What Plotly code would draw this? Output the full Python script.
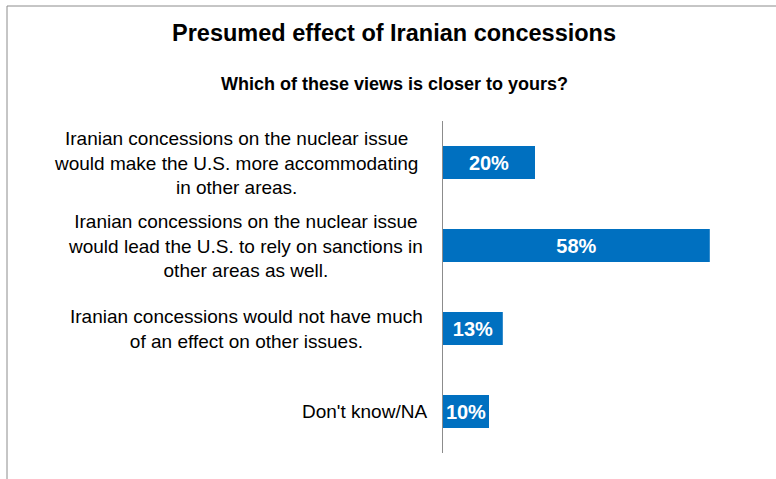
import plotly.graph_objects as go

categories = [
    "Iranian concessions on the nuclear issue<br>would make the U.S. more accommodating<br>in other areas.",
    "Iranian concessions on the nuclear issue<br>would lead the U.S. to rely on sanctions in<br>other areas as well.",
    "Iranian concessions would not have much<br>of an effect on other issues.",
    "Don't know/NA",
]
values = [20, 58, 13, 10]
value_labels = ["20%", "58%", "13%", "10%"]
title_text = "Presumed effect of Iranian concessions"
subtitle_text = "Which of these views is closer to yours?"

W, H = 776, 479
L, R, T, B = 443, 11, 121, 26
pw, ph = W - L - R, H - T - B

def px_x(p):
    return (p - L) / pw

def px_y(p):
    return 1 + (T - p) / ph

FONT = "Liberation Sans"
LABEL_SHIFTS = [-23, -18, -18, -14]

fig = go.Figure()
fig.add_trace(go.Bar(
    y=list(range(len(categories))),
    x=values,
    orientation="h",
    marker=dict(color="#0070C0", line=dict(width=0)),
    text=value_labels,
    textposition="inside",
    insidetextanchor="middle",
    constraintext="none",
    textfont=dict(family=FONT, size=20, color="white", weight="bold"),
    hoverinfo="skip",
))

annotations = [
    dict(text="<b>" + title_text + "</b>", x=px_x(394), y=px_y(33), xref="paper", yref="paper",
         xanchor="center", yanchor="middle", showarrow=False,
         font=dict(family=FONT, size=23.5, color="black")),
    dict(text="<b>" + subtitle_text + "</b>", x=px_x(394), y=px_y(84), xref="paper", yref="paper",
         xanchor="center", yanchor="middle", showarrow=False,
         font=dict(family=FONT, size=18, color="black")),
]
for i, c in enumerate(categories):
    annotations.append(dict(
        text=c, x=0, y=i, xref="paper", yref="y", xanchor="right", yanchor="middle",
        xshift=LABEL_SHIFTS[i], align="center", showarrow=False,
        font=dict(family=FONT, size=19, color="black"),
    ))

fig.update_layout(
    width=W, height=H,
    margin=dict(l=L, r=R, t=T, b=B, pad=0),
    paper_bgcolor="white", plot_bgcolor="white",
    bargap=0.6,
    showlegend=False,
    xaxis=dict(range=[0, pw / 4.6], visible=False, fixedrange=True),
    yaxis=dict(range=[3.5, -0.5], showticklabels=False, showgrid=False, zeroline=False,
               showline=True, linecolor="#8C8C8C", linewidth=1, ticks="", fixedrange=True),
    annotations=annotations,
    shapes=[dict(type="rect", xref="paper", yref="paper",
                 x0=px_x(7), x1=px_x(W + 20), y0=px_y(H + 20), y1=px_y(6),
                 line=dict(color="#8C8C8C", width=1), fillcolor="rgba(0,0,0,0)", layer="above")],
)

fig.write_html("out.html", config={"displayModeBar": False},
               post_script="document.body.style.margin='0';document.body.style.padding='0';")
